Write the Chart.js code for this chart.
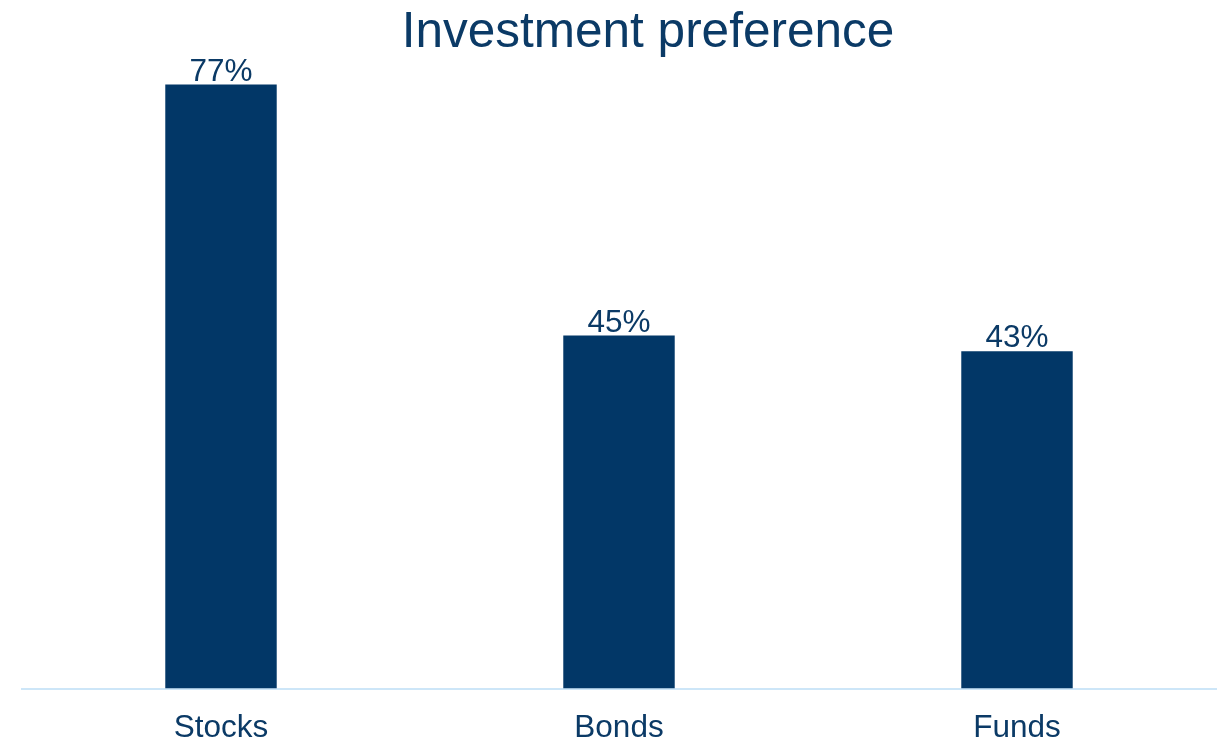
<!DOCTYPE html>
<html>
<head>
<meta charset="utf-8">
<script src="https://cdn.jsdelivr.net/npm/chart.js@4.4.4/dist/chart.umd.min.js"></script>
<style>
  html, body { margin: 0; padding: 0; background: #fff; }
  #wrap { position: relative; width: 1222px; height: 742px; }
  #title {
    position: absolute; top: 5px; left: 648px; transform: translateX(-50%);
    font: 49.5px "Liberation Sans", Arial, sans-serif; line-height: 49px;
    color: #0b3a66; white-space: nowrap;
  }
  canvas { position: absolute; left: 0; top: 0; }
</style>
</head>
<body>
<div id="wrap">
  <div id="title">Investment preference</div>
  <canvas id="c" width="1222" height="742"></canvas>
</div>
<script>
const categories = ['Stocks', 'Bonds', 'Funds'];
const shares = [77, 45, 43];

const navy = '#023767';
const textNavy = '#0b3a66';

// value labels sitting just above each bar
const valueLabels = {
    id: 'valueLabels',
    afterDatasetsDraw(chart) {
        const { ctx } = chart;
        const meta = chart.getDatasetMeta(0);
        ctx.save();
        ctx.fillStyle = textNavy;
        ctx.font = '31.5px "Liberation Sans", Arial, sans-serif';
        ctx.textAlign = 'center';
        ctx.textBaseline = 'alphabetic';
        meta.data.forEach((bar, i) => {
            ctx.fillText(shares[i] + '%', bar.x, bar.y - 4);
        });
        ctx.restore();
    },
};

new Chart(document.getElementById('c'), {
    type: 'bar',
    data: {
        labels: categories,
        datasets: [{
            data: shares,
            backgroundColor: navy,
            barPercentage: 0.28,
            categoryPercentage: 1,
        }],
    },
    options: {
        responsive: false,
        animation: false,
        layout: { padding: { top: 61, left: 22, right: 6, bottom: -26 } },
        plugins: {
            legend: { display: false },
            tooltip: { enabled: false },
        },
        scales: {
            x: {
                grid: { display: false, drawTicks: false },
                border: { display: true, color: '#cde6f8', width: 2 },
                ticks: {
                    padding: 24,
                    color: textNavy,
                    font: { family: '"Liberation Sans", Arial, sans-serif', size: 31.5, lineHeight: 1 },
                },
            },
            y: {
                display: false,
                min: 0,
                max: 80,
            },
        },
    },
    plugins: [valueLabels],
});
</script>
</body>
</html>
